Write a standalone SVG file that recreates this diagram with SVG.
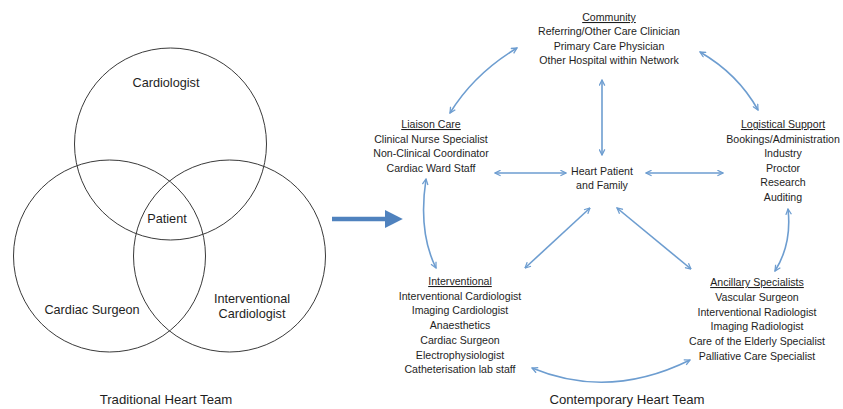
<svg xmlns="http://www.w3.org/2000/svg" width="843" height="409" viewBox="0 0 843 409">
<style>
text{font-family:"Liberation Sans",Arial,sans-serif;fill:#1e1e1e;text-anchor:middle}
.v{font-size:12.7px}
.s{font-size:10.6px}
.t{font-size:13.2px}
.u{text-decoration:underline}
.c{fill:none;stroke:#3a3a3a;stroke-width:1}
.a{fill:none;stroke:#6d9dd0;stroke-width:1.6;marker-start:url(#h);marker-end:url(#h)}
</style>
<defs>
<marker id="h" viewBox="0 0 10 10" refX="9" refY="5" markerWidth="7" markerHeight="7" markerUnits="userSpaceOnUse" orient="auto-start-reverse">
<path d="M1,1 L9,5 L1,9" fill="none" stroke="#6d9dd0" stroke-width="1.8"/>
</marker>
<marker id="big" viewBox="0 0 10 10" refX="4" refY="5" markerWidth="4" markerHeight="4" orient="auto">
<path d="M0,0 L10,5 L0,10 Z" fill="#4f82be"/>
</marker>
</defs>
<rect width="843" height="409" fill="#ffffff"/>
<g id="venn">
<g id="cardiologist"><circle class="c" cx="170.5" cy="144" r="96"/><text class="v" x="166" y="87">Cardiologist</text></g>
<g id="surgeon"><circle class="c" cx="109.5" cy="256" r="96"/><text class="v" x="92" y="314">Cardiac Surgeon</text></g>
<g id="interventional-cardiologist"><circle class="c" cx="229.5" cy="256" r="96"/><text class="v" x="252" y="303">Interventional</text><text class="v" x="252" y="318">Cardiologist</text></g>
<g id="patient"><text class="v" x="167" y="223">Patient</text></g>
<text class="t" x="166" y="404">Traditional Heart Team</text>
</g>
<g id="transition">
<line x1="332" y1="219" x2="392" y2="219" stroke="#4f82be" stroke-width="4.5" marker-end="url(#big)"/>
</g>
<g id="connectors">
<path class="a" d="M450,113 Q474,74 517,48"/>
<path class="a" d="M700,52 Q738,74 758,110"/>
<path class="a" d="M602,80 L602,155"/>
<path class="a" d="M495,173 L566,173"/>
<path class="a" d="M646,173 L723,173"/>
<path class="a" d="M426,179 Q418,232 436,268"/>
<path class="a" d="M590,208 L525,268"/>
<path class="a" d="M617,208 L691,269"/>
<path class="a" d="M788,209 Q792,244 775,271"/>
<path class="a" d="M532,368 Q609,400 690,360"/>
</g>
<g id="community">
<text class="s u" x="609" y="21">Community</text>
<text class="s" x="609" y="35">Referring/Other Care Clinician</text>
<text class="s" x="609" y="49.5">Primary Care Physician</text>
<text class="s" x="609" y="64">Other Hospital within Network</text>
</g>
<g id="liaison">
<text class="s u" x="431" y="128">Liaison Care</text>
<text class="s" x="431" y="142.5">Clinical Nurse Specialist</text>
<text class="s" x="431" y="157">Non-Clinical Coordinator</text>
<text class="s" x="431" y="171.5">Cardiac Ward Staff</text>
</g>
<g id="heart-patient">
<text class="s" x="602" y="175">Heart Patient</text>
<text class="s" x="602" y="189">and Family</text>
</g>
<g id="logistical">
<text class="s u" x="783" y="128">Logistical Support</text>
<text class="s" x="783" y="142.5">Bookings/Administration</text>
<text class="s" x="783" y="157">Industry</text>
<text class="s" x="783" y="171.5">Proctor</text>
<text class="s" x="783" y="186">Research</text>
<text class="s" x="783" y="200.5">Auditing</text>
</g>
<g id="interventional">
<text class="s u" x="460" y="285">Interventional</text>
<text class="s" x="460" y="299.7">Interventional Cardiologist</text>
<text class="s" x="460" y="314.4">Imaging Cardiologist</text>
<text class="s" x="460" y="329.1">Anaesthetics</text>
<text class="s" x="460" y="343.8">Cardiac Surgeon</text>
<text class="s" x="460" y="358.5">Electrophysiologist</text>
<text class="s" x="460" y="373.2">Catheterisation lab staff</text>
</g>
<g id="ancillary">
<text class="s u" x="757" y="286">Ancillary Specialists</text>
<text class="s" x="757" y="300.8">Vascular Surgeon</text>
<text class="s" x="757" y="315.6">Interventional Radiologist</text>
<text class="s" x="757" y="330.4">Imaging Radiologist</text>
<text class="s" x="757" y="345.2">Care of the Elderly Specialist</text>
<text class="s" x="757" y="360">Palliative Care Specialist</text>
</g>
<text class="t" x="627" y="404">Contemporary Heart Team</text>
</svg>
